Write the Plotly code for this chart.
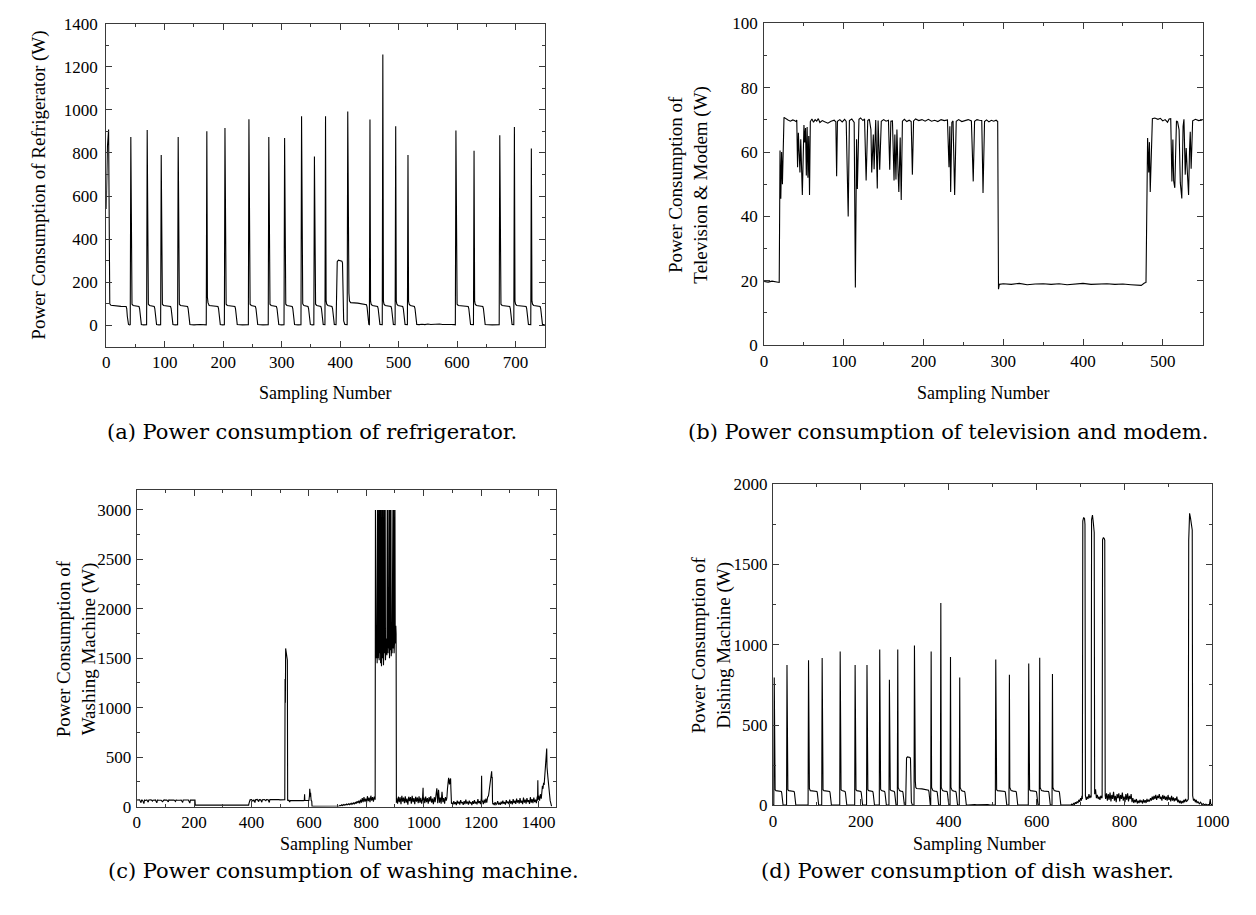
import plotly.graph_objects as go

# ---------------- (a) refrigerator: (sample, watts) vertices ----------------
fridge_points = [
    (0, 540), (2, 830), (4, 909), (5, 115), (6, 100), (8, 93), (15, 90), (25, 88), (34, 87), (35, 78), (36, 42), (37, 12), (38, 4), (40, 2),
    (41, 3), (42, 874), (43, 112), (44, 98), (46, 92), (50, 89), (56, 87), (57, 78), (58, 42), (59, 12), (60, 4), (64, 2), (69, 3),
    (70, 906), (71, 112), (72, 98), (74, 92), (78, 89), (82, 87), (83, 78), (84, 42), (85, 12), (86, 4), (90, 2), (93, 3),
    (94, 791), (95, 115), (96, 98), (98, 92), (103, 89), (110, 87), (111, 78), (112, 42), (113, 12), (114, 4), (118, 2), (122, 3),
    (123, 874), (124, 112), (125, 98), (127, 92), (132, 89), (139, 87), (140, 78), (141, 42), (142, 12), (143, 4), (150, 2), (160, 4), (171, 2),
    (172, 901), (173, 130), (174, 105), (176, 92), (182, 89), (191, 87), (192, 78), (193, 42), (194, 12), (195, 4), (199, 2), (202, 3),
    (203, 916), (204, 112), (205, 98), (207, 92), (213, 89), (220, 87), (221, 78), (222, 42), (223, 12), (224, 4), (233, 2), (243, 3),
    (244, 957), (245, 112), (246, 98), (248, 92), (252, 89), (255, 87), (256, 78), (257, 42), (258, 12), (259, 4), (268, 2), (277, 3),
    (278, 874), (279, 112), (280, 98), (282, 92), (286, 89), (291, 87), (292, 78), (293, 42), (294, 12), (295, 4), (300, 2), (304, 3),
    (305, 869), (306, 112), (307, 98), (309, 92), (313, 89), (318, 87), (319, 78), (320, 42), (321, 12), (322, 4), (328, 2), (333, 3),
    (334, 970), (335, 130), (336, 100), (338, 92), (341, 89), (345, 87), (346, 78), (347, 42), (348, 12), (349, 4), (352, 2), (355, 3),
    (356, 783), (357, 112), (358, 98), (360, 92), (363, 89), (367, 87), (368, 78), (369, 42), (370, 12), (371, 4), (374, 3),
    (375, 970), (376, 112), (377, 98), (379, 92), (382, 89), (386, 87), (387, 78), (388, 42), (389, 12), (390, 4), (393, 3),
    (394, 150), (395, 295), (397, 302), (400, 300), (403, 298), (404, 290), (405, 150), (406, 20), (408, 4), (412, 3),
    (413, 992), (414, 197), (415, 150), (416, 112), (418, 105), (430, 103), (445, 95), (446, 85), (447, 42), (448, 12), (449, 4), (450, 3),
    (451, 955), (452, 112), (453, 98), (455, 92), (459, 89), (464, 87), (465, 78), (466, 42), (467, 12), (468, 4), (472, 3),
    (473, 1257), (474, 112), (475, 98), (477, 92), (481, 89), (487, 87), (488, 78), (489, 42), (490, 12), (491, 4), (494, 3),
    (495, 924), (496, 112), (497, 98), (499, 92), (503, 89), (507, 87), (508, 78), (509, 42), (510, 12), (511, 4), (515, 3),
    (516, 791), (517, 112), (518, 98), (520, 92), (523, 89), (527, 87), (528, 78), (529, 42), (530, 12), (531, 4),
    (535, 3), (540, 5), (545, 3), (550, 6), (555, 4), (560, 5), (565, 3), (570, 6), (575, 4), (580, 5), (585, 3), (590, 4), (595, 3), (597, 2),
    (598, 904), (599, 112), (600, 98), (602, 92), (608, 89), (619, 87), (620, 78), (621, 42), (622, 12), (623, 4), (628, 3),
    (629, 810), (630, 112), (631, 98), (633, 92), (638, 89), (644, 87), (645, 78), (646, 42), (647, 12), (648, 4), (660, 2), (672, 3),
    (673, 882), (674, 112), (675, 98), (677, 92), (682, 89), (690, 87), (691, 78), (692, 42), (693, 12), (694, 4), (697, 3),
    (698, 920), (699, 112), (700, 98), (702, 92), (708, 89), (718, 87), (719, 78), (720, 42), (721, 12), (722, 4), (726, 3),
    (727, 821), (728, 112), (729, 98), (731, 92), (736, 89), (742, 87), (743, 78), (744, 42), (745, 12), (746, 4), (750, 3),
]

# ---------------- (b) television & modem ----------------
tv_points = [
    (0, 19.8), (5, 19.6), (10, 19.9), (15, 19.6), (19, 19.5), (20, 60.5), (21, 45.5), (22, 60), (23, 50), (25, 70.8),
    (28, 70.2), (30, 70.0), (33, 69.6), (36, 70.0), (38, 69.8), (40, 69.5), (41, 70.0),
    (42, 55.3), (43, 66), (45, 53.7), (46, 64), (48, 46.7), (50, 68.4), (51, 63), (52, 67.5), (53, 52.7), (54, 67.8),
    (55, 52), (56, 65), (57, 46.7), (58, 69.5), (60, 70.3), (62, 69.3), (64, 70.1), (66, 69.6), (68, 70.4), (70, 69.2),
    (73, 69.8), (76, 69.4), (80, 69.0), (84, 69.6), (88, 69.9), (90, 69.4), (91, 52.5), (92, 69.6), (95, 70.1), (98, 69.4),
    (101, 70.2), (103, 69.5), (105.5, 40), (107, 69.8), (110, 70.3), (113, 69.2), (114.5, 17.9), (116, 64), (117, 48.5),
    (119, 70.2), (121, 70.6), (124, 69.8), (126, 70.3), (128, 51.2), (130, 69.8), (132, 70.2), (134, 67), (135, 53.7),
    (137, 65.5), (138, 54.7), (140, 70), (142, 48.7), (143, 69.8), (145, 54.5), (147, 69.6), (150, 70.1), (153, 69.6),
    (156, 69.9), (157.6, 54.5), (159, 69.6), (161, 69.7), (163, 51.2), (164, 65.5), (165.4, 51.5), (166.6, 67), (168, 54),
    (169, 47.6), (170.7, 64.5), (172, 45.1), (173.5, 69.6), (176, 70.2), (179, 69.5), (182, 69.9), (184.5, 69.5), (186, 53),
    (187.5, 69.7), (190, 70.3), (194, 69.8), (198, 70.1), (202, 69.6), (206, 70.2), (210, 69.6), (214, 69.9), (218, 69.5),
    (222, 70.1), (226, 69.8), (230, 70.0), (231.9, 55.3), (233, 68), (234, 47.6), (235.5, 69.2), (237, 69.7), (239, 46.7),
    (241, 69.6), (244, 70.1), (248, 69.5), (252, 69.9), (256, 70.1), (260, 69.7), (262.3, 50.9), (264, 69.6), (267, 70.1),
    (270, 69.9), (273, 69.8), (274.6, 47.3), (276.5, 69.5), (279, 70.0), (282, 69.4), (285, 69.9), (288, 69.6), (291, 69.9),
    (293, 69.5), (294, 17.4), (295, 18.9), (300, 19.1), (310, 18.9), (320, 19.2), (330, 18.8), (340, 19.0), (350, 19.1),
    (360, 18.9), (370, 19.1), (380, 18.8), (390, 19.0), (400, 19.2), (410, 18.9), (420, 19.0), (430, 19.1), (440, 18.9),
    (450, 19.0), (460, 18.8), (470, 18.7), (473, 18.6), (477, 19.3), (479, 19.5), (481, 64.4), (482.4, 53.7), (483.3, 63.1),
    (484.3, 47.6), (487, 70.4), (490, 70.6), (494, 70.2), (497, 70.5), (500, 69.7), (503, 70.1), (506, 69.3), (508, 70.3),
    (510, 70.4), (511.5, 50.9), (512.7, 63.9), (513.7, 51), (515.1, 48.9), (517.2, 69.7), (518.6, 69.4), (520.5, 66.9),
    (522, 50.5), (523.9, 45.6), (525.5, 68), (526.6, 70.2), (528.2, 53), (529.4, 61.3), (530.6, 55), (532.4, 46.7),
    (533.6, 60.8), (534.5, 66.3), (535.6, 54.8), (537.5, 69.7), (541, 70.2), (545, 69.8), (550, 70.0),
]

# ---------------- (c) washing machine ----------------
wash_head = [
    (0, 66), (5, 64), (10, 68), (15, 40), (17, 66), (20, 65), (25, 30), (27, 66), (30, 62), (35, 67), (40, 45), (42, 66),
    (45, 65), (50, 68), (55, 55), (57, 66), (60, 64), (65, 67), (70, 38), (72, 66), (75, 65), (80, 67), (85, 64), (90, 50),
    (92, 66), (95, 68), (100, 65), (105, 66), (110, 48), (112, 67), (115, 65), (120, 66), (125, 64), (130, 67), (135, 52),
    (137, 66), (140, 65), (145, 68), (150, 64), (155, 66), (160, 42), (162, 66), (165, 65), (170, 67), (175, 64), (180, 66),
    (185, 35), (187, 66), (190, 65), (195, 67), (200, 66), (203, 65),
    (204, 15), (250, 14), (300, 15), (350, 14), (390, 15), (391, 30), (393, 60), (395, 68),
    (400, 70), (405, 55), (408, 70), (412, 40), (414, 69), (420, 72), (425, 50), (427, 70), (432, 68), (436, 45), (438, 70),
    (445, 72), (450, 60), (452, 70), (458, 69), (462, 42), (464, 70), (470, 71), (475, 68), (480, 70), (485, 69), (490, 71),
    (495, 70), (500, 68), (505, 70), (510, 69), (515, 70),
    (516, 70), (517, 1290), (518, 1050), (519, 1600), (520, 1560), (522, 1520), (524, 1500), (525, 1480), (526, 60),
    (527, 62), (530, 65), (533, 45), (535, 62), (540, 60), (545, 63), (550, 61), (555, 60), (560, 62), (565, 60), (570, 63),
    (575, 61), (580, 60), (584, 62), (585, 125), (586, 62), (590, 61), (595, 63), (600, 62), (602, 110), (603, 181),
    (604, 150), (605, 100), (606, 140), (607, 95), (608, 62), (610, 55), (611, 2), (650, 1), (702, 2),
]
wash_rise_start, wash_rise = 705, [
    5, 12, 8, 18, 10, 20, 14, 22, 16, 25, 18, 28, 20, 30, 22, 35, 25, 38, 28, 45, 30, 55,
    35, 60, 32, 70, 40, 85, 45, 95, 50, 80, 40, 105, 55, 90, 45, 110, 60, 95, 50, 100, 70,
]
wash_spin_start, wash_spin = 832, [
    3000, 1600, 3000, 1500, 1800, 3000, 1450, 3000, 1700, 1500,
    3000, 1650, 3000, 1480, 3000, 1750, 1550, 3000, 1450, 1800,
    3000, 1420, 3000, 1600, 3000, 1500, 1700, 3000, 1430, 3000,
    1650, 3000, 1550, 1800, 3000, 1480, 3000, 1700, 1600, 3000,
    1530, 3000, 1750, 3000, 1550, 1820, 3000, 1600, 3000, 1500,
    1700, 3000, 1580, 1800, 3000, 1520, 3000, 1650, 1550, 3000,
    1700, 3000, 1600, 1780, 3000, 1550, 3000, 1700, 3000, 1650,
    1800, 1830, 1750, 40,
]
wash_tail_a_start, wash_tail_a = 906, [
    85, 30, 100, 45, 95, 25, 110, 50, 90, 35, 105, 40, 80, 20, 100, 55,
    95, 30, 108, 45, 85, 25, 100, 50, 92, 35, 105, 40, 88, 30, 75,
]
wash_spike_a = [(998, 190), (999, 60)]
wash_tail_b_start, wash_tail_b = 1001, [
    90, 35, 100, 45, 85, 30, 95, 50, 105, 40, 80, 25, 95, 45,
    100, 185, 35, 170, 40, 90, 30, 150, 45, 85, 30, 95, 60,
]
wash_bump_b = [(1081, 90), (1083, 180), (1085, 240), (1087, 290), (1089, 250), (1090, 225), (1092, 270),
               (1094, 285), (1095, 180), (1096, 60), (1097, 30)]
wash_tail_c_start, wash_tail_c = 1099, [
    40, 20, 55, 25, 45, 15, 60, 30, 50, 20, 65, 35, 45, 18, 55, 25, 70,
    30, 50, 20, 60, 35, 45, 15, 55, 28, 65, 30, 48, 22, 75, 35, 55, 25,
]
wash_spike_c = [(1201, 80), (1202, 313), (1203, 50)]
wash_tail_d_start, wash_tail_d = 1205, [60, 25, 70, 35, 80, 40, 95, 110]
wash_bump_d = [(1228, 150), (1230, 200), (1232, 250), (1234, 300), (1236, 340), (1237, 357), (1238, 290),
               (1239, 300), (1240, 60), (1241, 25)]
wash_tail_e_start, wash_tail_e = 1243, [
    35, 15, 45, 20, 30, 55, 20, 40, 18, 50, 25, 60, 30, 45, 20, 65, 35, 50, 25, 70,
    30, 55, 22, 75, 35, 60, 28, 80, 40, 65, 30, 85, 38, 60, 25, 90, 40, 70, 30, 85,
    45, 65, 28, 95, 40, 75, 35, 90, 45, 70, 35, 100,
]
wash_spike_e = [(1397, 60), (1398, 267), (1399, 70)]
wash_tail_f_start, wash_tail_f = 1401, [110, 60, 125, 80]
wash_end = [(1412, 150), (1414, 210), (1416, 180), (1418, 240), (1420, 220), (1422, 290), (1424, 330),
            (1426, 420), (1428, 540), (1429, 588), (1430, 400), (1431, 330), (1433, 300), (1435, 240),
            (1437, 200), (1439, 120), (1441, 60), (1443, 20), (1444, 5), (1446, 2)]

# ---------------- (d) dish washer ----------------
dish_head = [
    (0, 3), (2, 3), (3, 796), (4, 115), (5, 98), (7, 92), (12, 89), (19, 87), (20, 78), (21, 42), (22, 12), (23, 4), (27, 2), (31, 3),
    (32, 874), (33, 112), (34, 98), (36, 92), (41, 89), (48, 87), (49, 78), (50, 42), (51, 12), (52, 4), (60, 2), (70, 4), (80, 2),
    (81, 904), (82, 130), (83, 105), (85, 92), (91, 89), (100, 87), (101, 78), (102, 42), (103, 12), (104, 4), (108, 2), (111, 3),
    (112, 918), (113, 112), (114, 98), (116, 92), (122, 89), (129, 87), (130, 78), (131, 42), (132, 12), (133, 4), (142, 2), (152, 3),
    (153, 959), (154, 112), (155, 98), (157, 92), (161, 89), (164, 87), (165, 78), (166, 42), (167, 12), (168, 4), (177, 2), (186, 3),
    (187, 874), (188, 112), (189, 98), (191, 92), (195, 89), (200, 87), (201, 78), (202, 42), (203, 12), (204, 4), (209, 2), (213, 3),
    (214, 874), (215, 112), (216, 98), (218, 92), (222, 89), (227, 87), (228, 78), (229, 42), (230, 12), (231, 4), (237, 2), (242, 3),
    (243, 971), (244, 130), (245, 100), (247, 92), (250, 89), (254, 87), (255, 78), (256, 42), (257, 12), (258, 4), (261, 2), (264, 3),
    (265, 782), (266, 112), (267, 98), (269, 92), (272, 89), (276, 87), (277, 78), (278, 42), (279, 12), (280, 4), (283, 3),
    (284, 971), (285, 112), (286, 98), (288, 92), (291, 89), (295, 87), (296, 78), (297, 42), (298, 12), (299, 4), (302, 3),
    (303, 150), (304, 295), (306, 302), (309, 300), (312, 298), (313, 290), (314, 150), (315, 20), (317, 4), (321, 3),
    (322, 996), (323, 197), (324, 150), (325, 112), (327, 105), (339, 103), (354, 95), (355, 85), (356, 42), (357, 12), (358, 4), (359, 3),
    (360, 959), (361, 112), (362, 98), (364, 92), (368, 89), (373, 87), (374, 78), (375, 42), (376, 12), (377, 4), (381, 3),
    (382, 1260), (383, 112), (384, 98), (386, 92), (390, 89), (396, 87), (397, 78), (398, 42), (399, 12), (400, 4), (403, 3),
    (404, 924), (405, 112), (406, 98), (408, 92), (412, 89), (416, 87), (417, 78), (418, 42), (419, 12), (420, 4), (424, 3),
    (425, 796), (426, 112), (427, 98), (429, 92), (432, 89), (436, 87), (437, 78), (438, 42), (439, 12), (440, 4), (444, 3),
    (449, 5), (454, 3), (459, 6), (464, 4), (469, 5), (474, 3), (479, 6), (484, 4), (489, 5), (494, 3), (499, 4), (504, 3), (506, 2),
    (507, 908), (508, 112), (509, 98), (511, 92), (517, 89), (528, 87), (529, 78), (530, 42), (531, 12), (532, 4), (537, 3),
    (538, 813), (539, 112), (540, 98), (542, 92), (547, 89), (553, 87), (554, 78), (555, 42), (556, 12), (557, 4), (569, 2), (581, 3),
    (582, 884), (583, 112), (584, 98), (586, 92), (591, 89), (599, 87), (600, 78), (601, 42), (602, 12), (603, 4), (606, 3),
    (607, 920), (608, 112), (609, 98), (611, 92), (617, 89), (627, 87), (628, 78), (629, 42), (630, 12), (631, 4), (635, 3),
    (636, 819), (637, 112), (638, 98), (640, 92), (645, 89), (651, 87), (652, 78), (653, 42), (654, 12), (655, 4), (660, 2),
    (665, 3), (670, 2), (675, 4),
]
dish_wash_cycles = [
    (678, 2), (680, 8), (682, 3), (684, 12), (686, 6), (688, 20), (690, 10), (692, 25), (694, 15), (696, 35), (698, 22),
    (700, 45), (702, 30), (703, 60), (704, 40), (705, 1770), (707, 1793), (709, 1785), (710, 1750), (711, 60), (713, 35),
    (715, 55), (717, 40), (719, 70), (721, 45), (723, 60), (724, 50), (725, 1780), (727, 1808), (729, 1760), (731, 1700),
    (732, 70), (734, 100), (736, 45), (738, 65), (740, 40), (742, 55), (744, 35), (746, 60), (748, 45), (749, 50),
    (750, 1655), (752, 1668), (754, 1660), (755, 1650), (756, 60),
]
dish_idle_start, dish_idle = 757, [
    40, 75, 30, 70, 35, 80, 25, 65, 40, 85, 30, 60, 20, 70, 45, 75, 25, 65, 40, 80,
    30, 55, 20, 70, 35, 75, 25, 60, 40, 70, 20, 45, 15, 35, 20, 40, 12, 30, 15, 35,
    20, 30, 12, 38, 18, 32, 15, 40, 22, 35, 25, 45, 30, 55, 35, 60, 40, 65, 35, 60,
    45, 70, 40, 55, 30, 65, 40, 60, 35, 55, 30, 65, 35, 50, 25, 60, 30, 50, 25, 45,
    30, 55, 20, 35, 15, 30, 12, 28, 15, 35, 20, 40, 25, 30, 40,
]
dish_tail = [
    (946, 1650), (947, 1790), (948, 1819), (950, 1790), (952, 1750), (953, 1725), (954, 1715), (955, 60), (957, 30),
    (959, 40), (961, 20), (963, 35), (965, 15), (967, 25), (970, 10), (973, 20), (976, 5), (979, 10), (982, 3),
    (985, 8), (988, 3), (991, 5), (993, 3), (995, 40), (996, 10), (998, 3), (1000, 5),
]

# ---------------- caption and label text ----------------
captions = [
    "(a) Power consumption of refrigerator.",
    "(b) Power consumption of television and modem.",
    "(c) Power consumption of washing machine.",
    "(d) Power consumption of dish washer.",
]
y_titles = [
    "Power Consumption of Refrigerator (W)",
    "Power Consumption of<br>Television &amp; Modem (W)",
    "Power Consumption of<br>Washing Machine (W)",
    "Power Consumption of<br>Dishing Machine (W)",
]
x_title = "Sampling Number"


def unzip(points):
    return [p[0] for p in points], [p[1] for p in points]


def sampled(start, values, step):
    return [(start + i * step, v) for i, v in enumerate(values)]


fridge_t, fridge_w = unzip(fridge_points)
tv_t, tv_w = unzip(tv_points)
wash_t, wash_w = unzip(
    wash_head
    + sampled(wash_rise_start, wash_rise, 3)
    + sampled(wash_spin_start, wash_spin, 1)
    + sampled(wash_tail_a_start, wash_tail_a, 3)
    + wash_spike_a
    + sampled(wash_tail_b_start, wash_tail_b, 3)
    + wash_bump_b
    + sampled(wash_tail_c_start, wash_tail_c, 3)
    + wash_spike_c
    + sampled(wash_tail_d_start, wash_tail_d, 3)
    + wash_bump_d
    + sampled(wash_tail_e_start, wash_tail_e, 3)
    + wash_spike_e
    + sampled(wash_tail_f_start, wash_tail_f, 3)
    + wash_end
)
dish_t, dish_w = unzip(dish_head + dish_wash_cycles + sampled(dish_idle_start, dish_idle, 2) + dish_tail)

W, H = 1256, 915
SERIF = "Liberation Serif"
AXIS_COLOR = "#3a3a3a"


def px_x(p):
    return p / W


def px_y(p):
    return 1 - p / H


fig = go.Figure()
series = [(fridge_t, fridge_w), (tv_t, tv_w), (wash_t, wash_w), (dish_t, dish_w)]
for i, (t, w) in enumerate(series):
    sfx = "" if i == 0 else str(i + 1)
    fig.add_trace(go.Scatter(
        x=t, y=w, mode="lines", xaxis="x" + sfx, yaxis="y" + sfx,
        line=dict(color="black", width=1.1), showlegend=False, hoverinfo="skip",
    ))

# plot boxes in pixels: (left, right, top, bottom)
boxes = [(104, 550, 15, 345), (773, 1219, 14.7, 343.3), (135, 561, 491.4, 814.5), (782, 1229, 485.3, 813.3)]
x_ranges = [[0, 750], [0, 550], [0, 1460], [0, 1000]]
y_ranges = [[-100, 1400], [0, 100], [0, 3200], [0, 2000]]
x_ticks = [(100, 50), (100, 50), (200, 100), (200, 100)]
y_ticks = [(200, 100), (20, 10), (500, 250), (500, 250)]
y_label_gap = [4, 2, 1, 1]


def axis_style(rng, dtick, minor_dtick, gap=0):
    return dict(
        range=rng, dtick=dtick, tick0=0, showline=True, linecolor=AXIS_COLOR, linewidth=1,
        mirror="ticks", ticks="inside", ticklen=6, tickwidth=1, tickcolor=AXIS_COLOR,
        minor=dict(ticks="inside", ticklen=3, dtick=minor_dtick, tick0=0, tickcolor=AXIS_COLOR, showgrid=False),
        showgrid=False, zeroline=False, ticklabelstandoff=gap,
        tickfont=dict(family=SERIF, size=17, color="black"),
    )


layout = dict(
    width=W, height=H, margin=dict(l=0, r=0, t=0, b=0),
    paper_bgcolor="white", plot_bgcolor="white", showlegend=False,
)
for i in range(4):
    sfx = "" if i == 0 else str(i + 1)
    l, r, t, b = boxes[i]
    xa = axis_style(x_ranges[i], *x_ticks[i])
    xa.update(domain=[px_x(l), px_x(r)], anchor="y" + sfx)
    ya = axis_style(y_ranges[i], *y_ticks[i], gap=y_label_gap[i])
    ya.update(domain=[px_y(b), px_y(t)], anchor="x" + sfx)
    layout["xaxis" + sfx] = xa
    layout["yaxis" + sfx] = ya

fig.update_layout(**layout)

annotations = []
# x-axis titles
for (cx, cy) in [(327, 392), (996, 392), (348, 853), (992, 853)]:
    annotations.append(dict(x=px_x(cx), y=px_y(cy), xref="paper", yref="paper", text=x_title,
                            showarrow=False, xanchor="center", yanchor="middle",
                            font=dict(family=SERIF, size=18, color="black")))
# y-axis titles
for text, (cx, cy) in zip(y_titles, [(36, 180), (696, 179), (74, 653), (720, 649)]):
    annotations.append(dict(x=px_x(cx), y=px_y(cy), xref="paper", yref="paper", text=text,
                            showarrow=False, textangle=-90, xanchor="center", yanchor="middle",
                            font=dict(family=SERIF, size=19, color="black")))
# sub-figure captions
for text, (cx, cy) in zip(captions, [(313, 432), (960, 432), (345, 880), (980, 880)]):
    annotations.append(dict(x=px_x(cx), y=px_y(cy), xref="paper", yref="paper", text=text,
                            showarrow=False, xanchor="center", yanchor="middle",
                            font=dict(family="DejaVu Serif", size=21, color="black")))
fig.update_layout(annotations=annotations)

fig.write_html("out.html")
